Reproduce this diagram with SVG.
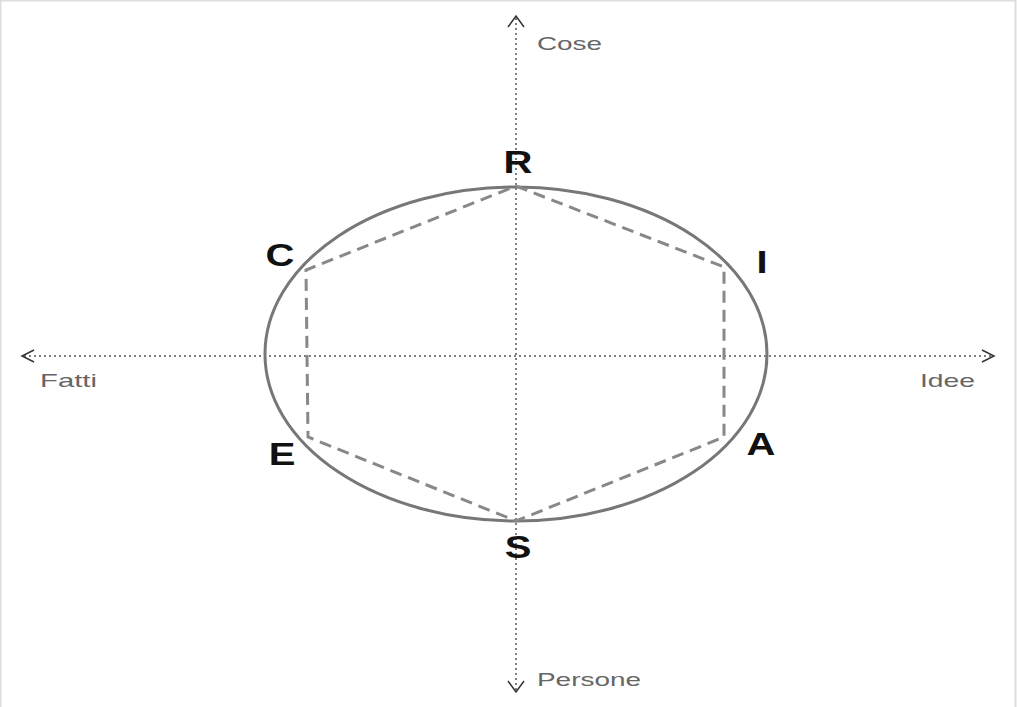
<svg xmlns="http://www.w3.org/2000/svg" width="1017" height="707" viewBox="0 0 1017 707">
<style>
.axis{stroke:#555;stroke-width:1.5;stroke-dasharray:2 3;fill:none}
.head{stroke:#333;stroke-width:1.5;fill:none}
.lbl{font-family:"Liberation Sans",Arial,sans-serif;font-size:19px;fill:#666}
.pt{font-family:"Liberation Sans",Arial,sans-serif;font-size:32px;font-weight:bold;fill:#111;text-anchor:middle}
</style>
<rect width="1017" height="707" fill="#fff"/>
<path d="M0.5 707 V0.5 H1015.5 V707" fill="none" stroke="#ddd" stroke-width="2"/>
<g id="connectors">
<line class="axis" x1="516" y1="18" x2="516" y2="690"/>
<line class="axis" x1="24" y1="356" x2="992" y2="356"/>
<path class="head" d="M508 27 L516 16 L524 27"/>
<path class="head" d="M508 681 L516 692 L524 681"/>
<path class="head" d="M34 350 L22 356 L34 362"/>
<path class="head" d="M982 350 L994 356 L982 362"/>
</g>
<g id="circle"><ellipse cx="516" cy="354" rx="251" ry="167" fill="none" stroke="#777" stroke-width="3"/></g>
<g id="hexagon"><polygon points="516,186 724,267 724,437 516,521 308,437 306,270" fill="none" stroke="#888" stroke-width="3" stroke-dasharray="12 7"/></g>
<g id="labels">
<text class="lbl" x="537" y="50" textLength="65" lengthAdjust="spacingAndGlyphs">Cose</text>
<text class="lbl" x="40" y="387" textLength="57" lengthAdjust="spacingAndGlyphs">Fatti</text>
<text class="lbl" x="920" y="387" textLength="55" lengthAdjust="spacingAndGlyphs">Idee</text>
<text class="lbl" x="537" y="686" textLength="104" lengthAdjust="spacingAndGlyphs">Persone</text>
</g>
<g id="node-R"><text class="pt" transform="translate(518 173) scale(1.25 1)">R</text></g>
<g id="node-C"><text class="pt" transform="translate(280 266) scale(1.25 1)">C</text></g>
<g id="node-I"><text class="pt" transform="translate(762 273) scale(1.25 1)">I</text></g>
<g id="node-E"><text class="pt" transform="translate(282 465) scale(1.25 1)">E</text></g>
<g id="node-A"><text class="pt" transform="translate(761 455) scale(1.25 1)">A</text></g>
<g id="node-S"><text class="pt" transform="translate(518 558) scale(1.25 1)">S</text></g>
</svg>
